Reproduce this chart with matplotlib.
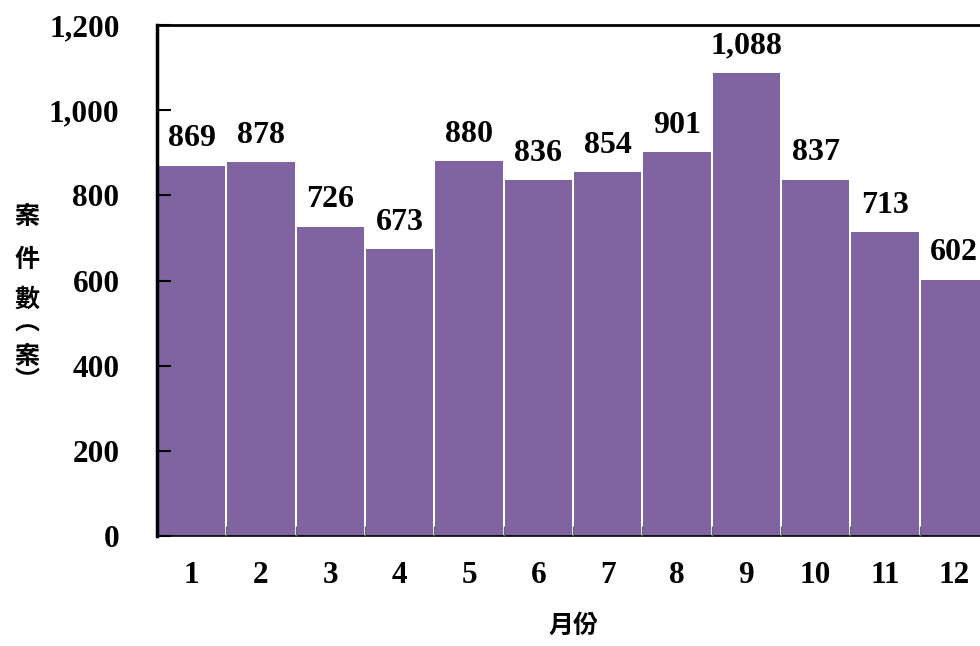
import matplotlib.pyplot as plt
from matplotlib.ticker import FuncFormatter, MultipleLocator

# monthly case counts
months = list(range(1, 13))
month_labels = [str(m) for m in months]
cases = [869, 878, 726, 673, 880, 836, 854, 901, 1088, 837, 713, 602]

serif = ['Liberation Serif', 'DejaVu Serif']
cjk = ['Noto Sans CJK TC', 'DejaVu Sans']

fig = plt.figure(figsize=(9.8, 6.46), dpi=100)
ax = fig.add_axes([157 / 980, 1 - 536 / 646, (989 - 157) / 980, (536 - 25) / 646])
ax.set_axisbelow(False)

bars = ax.bar(months, cases, width=0.97, color='#8064A2', edgecolor='none', zorder=1)

# value labels above bars
for b, v in zip(bars, cases):
    ax.annotate(f'{v:,}', (b.get_x() + b.get_width() / 2, v), xytext=(0, 9),
                textcoords='offset points', ha='center', va='bottom',
                fontsize=23, fontweight='bold', family=serif)

ax.set_xlim(0.5, 12.5)
ax.set_ylim(0, 1200)
ax.yaxis.set_major_locator(MultipleLocator(200))
ax.yaxis.set_major_formatter(FuncFormatter(lambda v, p: f'{int(v):,}'))
ax.set_xticks(months)
ax.set_xticklabels(month_labels)
ax.set_xticks([m + 0.5 for m in months[:-1]], minor=True)

ax.tick_params(axis='y', direction='in', length=10, width=1.5, pad=27, labelsize=22.5)
ax.tick_params(axis='x', which='major', length=0, pad=18, labelsize=22.5)
ax.tick_params(axis='x', which='minor', direction='in', length=7, width=1, color='#666666')
for lab in ax.get_xticklabels() + ax.get_yticklabels():
    lab.set_family(serif)
    lab.set_fontweight('bold')

ax.spines['left'].set_linewidth(2.5)
ax.spines['top'].set_linewidth(2)
ax.spines['bottom'].set_linewidth(1.2)
ax.spines['right'].set_linewidth(2)

ax.set_xlabel('月份', family=cjk, fontsize=18, fontweight='bold', labelpad=17)

# vertical y-axis title, stacked characters
ylab_chars = ['案', '件', '數', '︵', '案', '︶']
ylab_y = [217, 260, 300, 324, 357, 381]
for ch, yy in zip(ylab_chars, ylab_y):
    fig.text(27 / 980, 1 - yy / 646, ch, family=cjk, fontsize=18, fontweight='bold',
             ha='center', va='center')

fig.savefig('out.png', dpi=100)
